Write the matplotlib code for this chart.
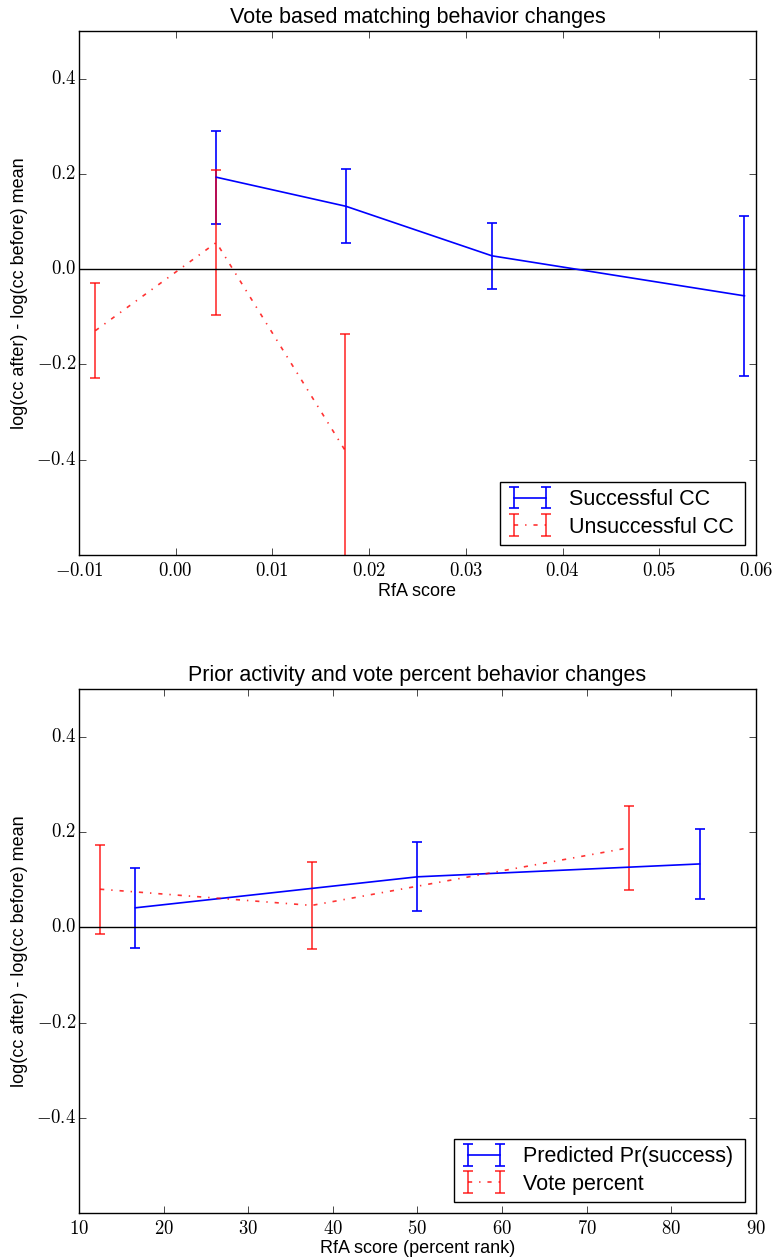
import numpy as np
import matplotlib
matplotlib.use('Agg')
import matplotlib.pyplot as plt
from matplotlib.ticker import FuncFormatter

# top panel: vote based matching
succ_x = [0.0042, 0.0176, 0.0327, 0.0588]
succ_y = [0.193, 0.132, 0.028, -0.056]
succ_err = [0.098, 0.078, 0.069, 0.168]

unsucc_x = [-0.0083, 0.0042, 0.0175]
unsucc_y = [-0.129, 0.056, -0.380]
unsucc_err = [0.100, 0.152, 0.243]

# bottom panel: prior activity / vote percent
pred_x = [16.67, 50.0, 83.33]
pred_y = [0.041, 0.106, 0.133]
pred_err = [0.084, 0.072, 0.074]

vote_x = [12.5, 37.5, 75.0]
vote_y = [0.080, 0.046, 0.167]
vote_err = [0.093, 0.092, 0.088]

yticks = [-0.4, -0.2, 0.0, 0.2, 0.4]

plt.style.use('classic')
plt.rcParams['font.family'] = 'Liberation Sans'
plt.rcParams['mathtext.fontset'] = 'cm'
plt.rcParams['lines.scale_dashes'] = False

fig = plt.figure(figsize=(7.72, 12.58), dpi=100, facecolor='white')
ax1 = fig.add_axes([0.1023, 0.5588, 0.877, 0.4166])
ax2 = fig.add_axes([0.1023, 0.0355, 0.877, 0.4168])

ylab = 'log(cc after) - log(cc before) mean'


def style_axes(ax, xfmt, leg_box):
    ax.axhline(0, color='black', lw=1.0)
    ax.set_yticks(yticks)
    ax.set_ylim(-0.6, 0.5)
    ax.yaxis.set_major_formatter(FuncFormatter(lambda v, p: '$%.1f$' % v))
    ax.xaxis.set_major_formatter(FuncFormatter(xfmt))
    ax.tick_params(axis='both', which='major', direction='in', length=5,
                   labelsize=13.5, top=True, right=True)
    ax.tick_params(axis='x', pad=5)
    ax.tick_params(axis='y', pad=2)
    ax.set_ylabel(ylab, fontsize=13, labelpad=6)
    ax.legend(loc='lower left', bbox_to_anchor=leg_box, mode='expand',
              fontsize=15.5, numpoints=2, handlelength=2.1,
              borderpad=0.35, labelspacing=0.3, handletextpad=0.75,
              borderaxespad=0.0)


# Top
ax1.errorbar(succ_x, succ_y, yerr=succ_err, fmt='b-', lw=1.2, capsize=3.5,
             elinewidth=1.2, capthick=1.2, label='Successful CC')
ax1.errorbar(unsucc_x, unsucc_y, yerr=unsucc_err, fmt='r-.', lw=1.2,
             capsize=3.5, elinewidth=1.2, capthick=1.2, alpha=0.8,
             label='Unsuccessful CC')
ax1.set_xlim(-0.01, 0.06)
ax1.set_xticks(np.arange(-0.01, 0.0601, 0.01))
ax1.set_title('Vote based matching behavior changes', fontsize=15.5, pad=6)
ax1.set_xlabel('RfA score', fontsize=13, labelpad=2)
style_axes(ax1, lambda v, p: '$%.2f$' % (0.0 if abs(v) < 1e-9 else v),
           (0.622, 0.019, 0.362, 0.126))

# Bottom
ax2.errorbar(pred_x, pred_y, yerr=pred_err, fmt='b-', lw=1.2, capsize=3.5,
             elinewidth=1.2, capthick=1.2, label='Predicted Pr(success)')
ax2.errorbar(vote_x, vote_y, yerr=vote_err, fmt='r-.', lw=1.2, capsize=3.5,
             elinewidth=1.2, capthick=1.2, alpha=0.8, label='Vote percent')
ax2.set_xlim(10, 90)
ax2.set_xticks(range(10, 91, 10))
ax2.set_title('Prior activity and vote percent behavior changes',
              fontsize=15.5, pad=6)
ax2.set_xlabel('RfA score (percent rank)', fontsize=13, labelpad=1)
style_axes(ax2, lambda v, p: '$%d$' % v, (0.554, 0.021, 0.430, 0.13))

fig.savefig('out.png', dpi=100, facecolor='white')
